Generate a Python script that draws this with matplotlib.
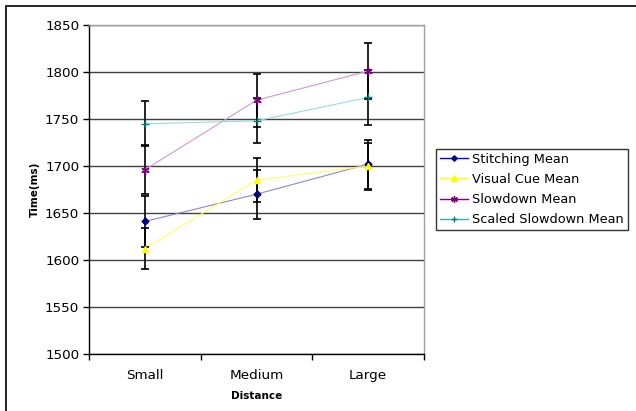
import matplotlib
matplotlib.use("Agg")
import matplotlib.pyplot as plt
from matplotlib.patches import Rectangle
from matplotlib.lines import Line2D
import numpy as np

plt.rcParams['font.family'] = ['DejaVu Sans']

categories = ["Small", "Medium", "Large"]
series_names = ["Stitching Mean", "Visual Cue Mean", "Slowdown Mean", "Scaled Slowdown Mean"]
stitching = [1641, 1670, 1702]
stitching_err = [27, 26, 26]
visual_cue = [1612, 1685, 1700]
visual_cue_err = [22, 23, 25]
slowdown = [1696, 1770, 1801]
slowdown_err = [26, 28, 30]
scaled_slowdown = [1745, 1748, 1773]
scaled_slowdown_err = [24, 24, 29]
y_ticks = [1500, 1550, 1600, 1650, 1700, 1750, 1800, 1850]

W, H = 636, 411
fig = plt.figure(figsize=(W / 100, H / 100), dpi=100)
fig.patch.set_facecolor('white')
fig.patches.append(Rectangle((6 / W, -0.5), 2.0, 1.5 - 6 / H, transform=fig.transFigure,
                             fill=False, edgecolor='black', linewidth=1.2, zorder=0))

ax = fig.add_axes([89 / W, 1 - 354 / H, (424 - 89) / W, (354 - 25) / H])

x = np.arange(len(categories)) + 0.5
styles = [
    (stitching, stitching_err, '#000080', '#8888d8', 'D', 3.5),
    (visual_cue, visual_cue_err, '#FFFF00', '#FFFF60', '^', 5),
    (slowdown, slowdown_err, '#800080', '#d494dc', (6, 2, 0), 6),
    (scaled_slowdown, scaled_slowdown_err, '#008080', '#98dcdc', '+', 6),
]
for vals, errs, mc, lc, mk, ms in styles:
    ax.plot(x, vals, color=lc, lw=0.8, zorder=2)
    ax.errorbar(x, vals, yerr=errs, fmt='none', ecolor='black', elinewidth=1.2,
                capsize=3, capthick=1.2, zorder=3)
    ax.plot(x, vals, linestyle='none', marker=mk, ms=ms, color=mc, mec=mc, mew=1.0, zorder=4)

ax.set_xlim(0, 3)
ax.set_ylim(1500, 1850)
ax.set_yticks(y_ticks)
ax.set_yticklabels([str(v) for v in y_ticks], fontsize=9.7)
ax.yaxis.grid(True, color='#404040', linewidth=1.0)
ax.set_axisbelow(True)
ax.set_xticks([0, 1, 2, 3])
ax.set_xticklabels([])
ax.set_xticks(x, minor=True)
ax.set_xticklabels(categories, minor=True, fontsize=9.7)
ax.tick_params(axis='x', which='minor', length=0, pad=11)
ax.tick_params(axis='x', which='major', length=4, width=1, direction='out')
ax.tick_params(axis='y', length=4, width=1, direction='out', pad=3)

for s in ['top', 'right']:
    ax.spines[s].set_color('#a0a0a0')
    ax.spines[s].set_linewidth(1.0)
for s in ['left', 'bottom']:
    ax.spines[s].set_color('black')
    ax.spines[s].set_linewidth(1.0)

ax.set_xlabel("Distance", fontsize=7.5, fontweight='bold', labelpad=6)
ax.set_ylabel("Time(ms)", fontsize=7.5, fontweight='bold', labelpad=4)

handles = []
leg_colors = ['#0000ff', '#FFFF00', '#800080', '#33b0b0']
for (vals, errs, mc, lc, mk, ms), c in zip(styles, leg_colors):
    handles.append(Line2D([0], [0], color=c, lw=1.0,
                          marker=mk, ms=ms * 0.8, mfc=mc, mec=mc))
leg = fig.legend(handles, series_names, loc='upper left',
                 bbox_to_anchor=(436 / W, 1 - 149 / H), fontsize=9.3, frameon=True,
                 fancybox=False, edgecolor='black', handlelength=2.2,
                 borderpad=0.3, labelspacing=0.55, handletextpad=0.3, borderaxespad=0)
leg.get_frame().set_linewidth(1.0)

fig.savefig("out.png", dpi=100)
